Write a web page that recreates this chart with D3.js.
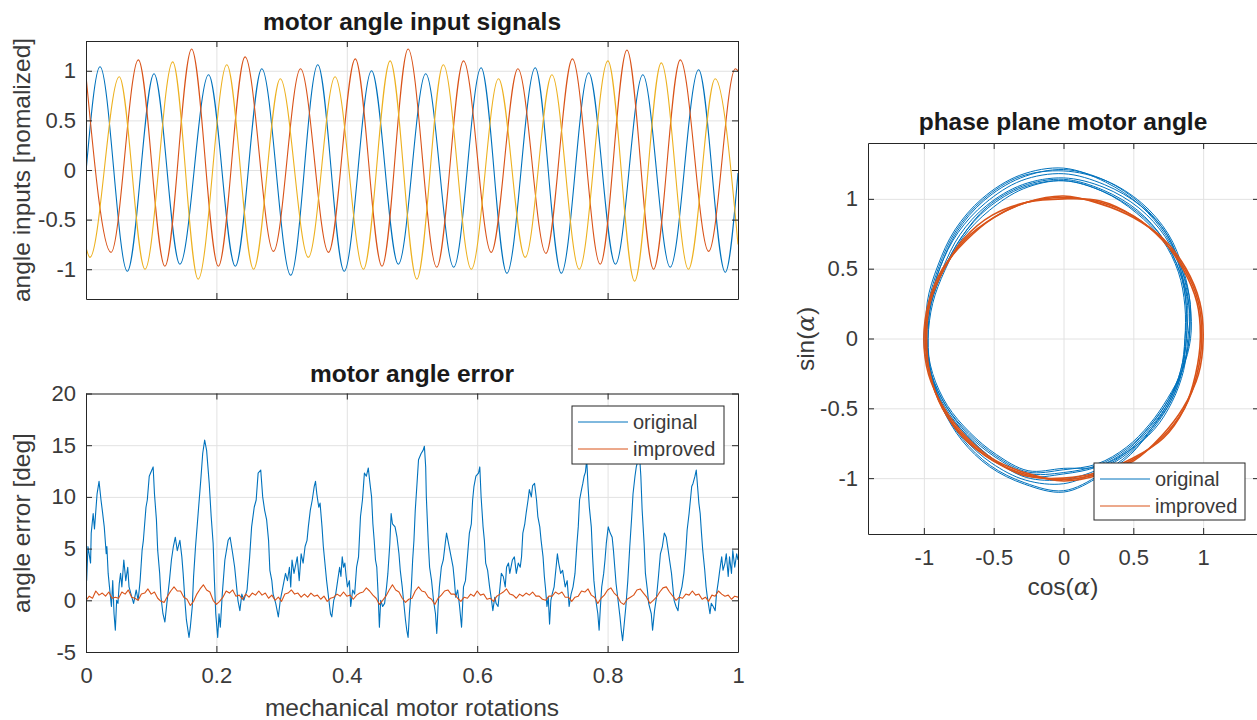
<!DOCTYPE html>
<html>
<head>
<meta charset="utf-8">
<script src="https://cdn.jsdelivr.net/npm/d3@7"></script>
<style>
  body { margin: 0; background: #fff; }
  text { font-family: "Liberation Sans", Arial, Helvetica, sans-serif; }
</style>
</head>
<body>
<svg id="fig" width="1257" height="720"></svg>
<script>
// ---- data ----
// motor angle input signals: extrema [rotation, value]
const inBlue = [[0,-0.02],[0.0215,1.04],[0.0634,-1.02],[0.1043,0.97],[0.144,-0.95],[0.188,0.96],[0.229,-0.97],[0.2696,1.02],[0.314,-1.06],[0.3555,1.06],[0.396,-1.02],[0.438,1.0],[0.479,-0.95],[0.521,0.97],[0.564,-0.98],[0.606,1.03],[0.6455,-1.04],[0.689,1.03],[0.729,-1.04],[0.771,0.98],[0.812,-0.95],[0.854,0.96],[0.896,-0.98],[0.9396,1.01],[0.9805,-1.03],[1.0,-0.03]];
const inRed = [[0,0.95],[0.0384,-0.83],[0.0803,1.11],[0.121,-0.97],[0.162,1.22],[0.203,-0.97],[0.244,1.14],[0.2875,-0.82],[0.329,1.02],[0.372,-0.83],[0.413,1.12],[0.454,-0.97],[0.494,1.22],[0.538,-0.98],[0.579,1.10],[0.6215,-0.83],[0.6624,1.02],[0.7054,-0.84],[0.746,1.12],[0.7887,-0.95],[0.8297,1.21],[0.8705,-1.0],[0.9115,1.11],[0.955,-0.82],[0.996,1.02],[1.0,1.0]];
const inYellow = [[0,-0.78],[0.006,-0.88],[0.051,0.94],[0.0905,-1.0],[0.133,1.09],[0.172,-1.10],[0.216,1.06],[0.257,-1.0],[0.298,0.92],[0.341,-0.88],[0.382,0.94],[0.4256,-1.0],[0.4665,1.10],[0.5074,-1.10],[0.548,1.06],[0.591,-1.0],[0.6327,0.92],[0.6736,-0.88],[0.7146,0.96],[0.7565,-1.0],[0.8005,1.10],[0.8414,-1.12],[0.8823,1.08],[0.924,-1.0],[0.965,0.92],[1.0,-0.75]];

// motor angle error [deg], original
const errOrig = [[0.001,1.9],[0.003,5.2],[0.007,3.6],[0.008,6.5],[0.011,8.4],[0.013,6.9],[0.017,10.3],[0.020,11.5],[0.023,9.7],[0.025,8.7],[0.028,7.1],[0.031,4.5],[0.032,5.2],[0.034,2.6],[0.036,1.3],[0.039,-0.6],[0.041,1.9],[0.043,-1.3],[0.045,-2.9],[0.047,0],[0.049,-0.3],[0.051,1.6],[0.053,2.6],[0.055,1.3],[0.058,3.9],[0.061,1.9],[0.064,3.2],[0.066,1.3],[0.069,0.6],[0.073,-0.3],[0.077,1.0],[0.080,0],[0.083,1.9],[0.086,4.8],[0.088,5.8],[0.092,9.0],[0.094,9.7],[0.097,12.0],[0.101,12.6],[0.103,12.9],[0.105,10.3],[0.108,7.8],[0.110,4.8],[0.113,2.6],[0.115,0.3],[0.118,-1.3],[0.121,-2.1],[0.124,-0.3],[0.128,1.9],[0.131,3.9],[0.134,5.2],[0.137,6.1],[0.140,4.8],[0.144,5.8],[0.147,4.2],[0.149,2.6],[0.152,-0.3],[0.154,-1.9],[0.158,-3.6],[0.160,-2.6],[0.163,-0.6],[0.165,2.3],[0.168,5.2],[0.172,8.4],[0.176,11.6],[0.179,14.2],[0.182,15.5],[0.185,14.5],[0.187,12.9],[0.189,11.3],[0.192,8.1],[0.195,5.5],[0.197,1.9],[0.199,-1.3],[0.202,-3.6],[0.204,-1.3],[0.206,-2.6],[0.209,0.6],[0.213,3.9],[0.218,5.8],[0.221,6.1],[0.225,4.5],[0.228,3.2],[0.231,1.3],[0.233,0],[0.236,-1.0],[0.239,0.6],[0.242,0],[0.247,1.0],[0.251,4.2],[0.254,7.1],[0.258,9.0],[0.261,9.7],[0.264,12.3],[0.268,12.6],[0.271,10.0],[0.274,8.7],[0.277,7.8],[0.280,5.8],[0.282,2.9],[0.285,1.9],[0.287,0.6],[0.291,-0.3],[0.295,-1.6],[0.298,0],[0.302,1.3],[0.306,2.6],[0.309,1.9],[0.312,3.2],[0.314,1.3],[0.316,3.9],[0.319,2.6],[0.324,4.2],[0.327,1.9],[0.330,4.5],[0.333,3.6],
  [0.336,5.2],[0.339,5.8],[0.341,7.1],[0.344,8.7],[0.347,9.7],[0.350,11.0],[0.352,11.5],[0.354,10.3],[0.357,9.0],[0.359,9.4],[0.362,7.1],[0.364,5.2],[0.366,3.9],[0.369,1.9],[0.372,0.3],[0.375,-1.3],[0.377,-1.6],[0.380,0],[0.383,0.6],[0.386,1.9],[0.389,3.2],[0.391,2.3],[0.393,4.2],[0.395,3.2],[0.397,3.6],[0.399,2.3],[0.401,1.3],[0.404,1.9],[0.406,-0.6],[0.409,1.0],[0.412,0.6],[0.415,3.2],[0.418,4.2],[0.421,8.1],[0.424,9.7],[0.427,12.3],[0.430,12.0],[0.433,12.8],[0.435,11.6],[0.438,10.0],[0.440,7.4],[0.442,5.8],[0.444,3.9],[0.446,3.2],[0.448,0.6],[0.450,-2.6],[0.452,0],[0.455,-0.6],[0.458,-0.3],[0.461,1.3],[0.463,2.6],[0.466,5.5],[0.468,8.4],[0.470,7.4],[0.474,7.1],[0.477,6.1],[0.480,4.5],[0.482,2.9],[0.485,1.3],[0.487,0],[0.490,-1.9],[0.492,-2.9],[0.494,-3.6],[0.496,-1.3],[0.499,1.3],[0.501,3.9],[0.503,5.8],[0.505,8.7],[0.508,11.6],[0.510,13.6],[0.514,14.2],[0.517,14.5],[0.519,14.9],[0.521,12.9],[0.522,10.0],[0.525,5.5],[0.527,3.2],[0.530,1.9],[0.533,0],[0.536,-1.3],[0.538,-3.2],[0.540,-0.6],[0.542,1.3],[0.545,3.2],[0.548,3.9],[0.551,5.5],[0.553,6.5],[0.556,5.5],[0.560,4.2],[0.563,3.2],[0.565,1.9],[0.567,0.3],[0.570,1.0],[0.573,-0.6],[0.576,-2.6],[0.579,1.3],[0.582,1.9],[0.585,4.2],[0.588,6.5],[0.591,7.4],[0.593,9.7],[0.595,11.0],[0.598,12.0],[0.602,12.3],[0.604,12.9],[0.606,10.0],[0.609,7.1],[0.611,5.8],[0.613,3.6],[0.616,2.9],[0.619,1.3],[0.622,0],[0.624,-1.0],[0.627,0.3],[0.629,-0.3],[0.632,-0.6],[0.635,1.3],[0.637,2.6],[0.640,2.3],[0.643,1.3],[0.645,3.2],[0.648,3.6],[0.650,2.6],[0.654,3.9],[0.657,4.2],[0.660,2.6],[0.663,3.6],[0.666,3.2],
  [0.668,4.2],[0.670,6.5],[0.673,7.4],[0.675,8.4],[0.678,9.7],[0.680,10.7],[0.683,10.0],[0.685,11.1],[0.688,11.3],[0.691,9.7],[0.693,8.1],[0.696,7.1],[0.698,5.8],[0.701,4.2],[0.703,2.3],[0.705,1.0],[0.707,-0.6],[0.709,0.3],[0.711,-2.3],[0.713,0],[0.715,0.6],[0.718,1.3],[0.721,3.2],[0.723,4.5],[0.725,3.6],[0.728,2.6],[0.731,2.9],[0.735,1.3],[0.738,1.9],[0.741,-0.6],[0.744,0.6],[0.747,1.3],[0.750,2.6],[0.753,5.5],[0.755,7.1],[0.757,9.7],[0.760,10.7],[0.762,11.3],[0.764,12.0],[0.766,12.4],[0.768,13.6],[0.770,11.0],[0.772,9.0],[0.775,7.1],[0.777,4.2],[0.779,1.9],[0.782,0],[0.785,-1.3],[0.787,-2.9],[0.789,-0.6],[0.791,1.3],[0.794,2.6],[0.796,3.9],[0.798,5.5],[0.801,7.1],[0.804,6.5],[0.807,6.1],[0.809,4.8],[0.811,3.2],[0.813,1.6],[0.816,0],[0.819,-1.6],[0.821,-2.9],[0.823,-3.9],[0.825,-2.6],[0.828,-0.6],[0.831,1.9],[0.834,5.2],[0.837,8.1],[0.839,10.3],[0.842,12.0],[0.844,12.9],[0.846,13.4],[0.849,14.0],[0.851,12.0],[0.853,8.7],[0.856,5.5],[0.858,2.6],[0.861,1.0],[0.863,-0.3],[0.867,-1.3],[0.869,-2.9],[0.872,-1.0],[0.875,0.3],[0.878,2.3],[0.881,4.5],[0.884,5.2],[0.887,6.5],[0.890,6.1],[0.893,4.8],[0.895,3.9],[0.898,2.6],[0.900,1.3],[0.902,0],[0.905,-0.6],[0.908,-1.0],[0.910,0.3],[0.914,1.3],[0.917,2.6],[0.920,4.8],[0.922,6.8],[0.925,8.4],[0.927,9.7],[0.929,11.0],[0.931,11.3],[0.934,12.0],[0.936,12.6],[0.938,11.0],[0.940,9.4],[0.942,8.4],[0.944,6.5],[0.946,4.8],[0.949,2.9],[0.951,1.3],[0.953,0.3],[0.957,-1.3],[0.959,-0.3],[0.962,-0.6],[0.965,-1.0],[0.967,0.6],[0.970,1.9],[0.972,2.9],[0.975,4.2],[0.977,2.9],[0.980,3.6],[0.982,4.5],[0.985,2.3],[0.987,4.2],[0.990,2.6],[0.992,4.8],[0.995,3.2],[0.998,4.5],[1.0,3.9]];

// motor angle error [deg], improved (small jittery ripple)
const errImproved = [[0.000,0.0],[0.005,0.4],[0.010,0.2],[0.015,0.9],[0.020,0.5],[0.025,0.7],[0.030,0.4],[0.035,0.8],[0.040,0.2],[0.045,0.3],[0.050,0.2],[0.055,0.8],[0.060,0.6],[0.065,1.0],[0.070,0.3],[0.075,0.2],[0.080,0.0],[0.085,0.6],[0.090,0.7],[0.095,1.1],[0.100,0.6],[0.105,0.8],[0.110,0.2],[0.115,-0.1],[0.120,-0.2],[0.125,0.4],[0.130,0.9],[0.135,1.3],[0.140,0.9],[0.145,0.9],[0.150,0.3],[0.155,0.1],[0.160,-0.5],[0.165,-0.1],[0.170,0.6],[0.175,1.1],[0.180,1.5],[0.185,1.0],[0.190,0.8],[0.195,0.0],[0.200,-0.4],[0.205,-0.1],[0.210,0.3],[0.215,0.9],[0.220,0.7],[0.225,1.0],[0.230,0.4],[0.235,0.5],[0.240,0.1],[0.245,0.6],[0.250,0.3],[0.255,0.7],[0.260,0.5],[0.265,0.9],[0.270,0.5],[0.275,0.7],[0.280,0.2],[0.285,0.5],[0.290,0.0],[0.295,0.3],[0.300,-0.1],[0.305,0.6],[0.310,0.7],[0.315,1.0],[0.320,0.6],[0.325,0.7],[0.330,0.3],[0.335,0.6],[0.340,0.3],[0.345,0.7],[0.350,0.4],[0.355,0.5],[0.360,0.1],[0.365,0.4],[0.370,-0.1],[0.375,0.2],[0.380,0.3],[0.385,0.6],[0.390,0.4],[0.395,0.8],[0.400,0.4],[0.405,0.5],[0.410,0.1],[0.415,0.5],[0.420,0.7],[0.425,0.8],[0.430,1.2],[0.435,0.9],[0.440,0.5],[0.445,0.2],[0.450,-0.4],[0.455,0.0],[0.460,0.4],[0.465,1.0],[0.470,1.5],[0.475,1.0],[0.480,0.8],[0.485,0.2],[0.490,-0.2],[0.495,0.1],[0.500,0.2],[0.505,0.9],[0.510,1.3],[0.515,0.9],[0.520,0.8],[0.525,0.3],[0.530,0.1],[0.535,-0.4],[0.540,0.2],[0.545,0.5],[0.550,0.9],[0.555,1.0],[0.560,0.6],[0.565,0.6],[0.570,0.2],[0.575,-0.1],[0.580,0.3],[0.585,0.2],[0.590,0.6],[0.595,0.4],[0.600,0.9],[0.605,0.5],[0.610,0.6],[0.615,0.1],[0.620,0.2],[0.625,-0.1],[0.630,0.4],[0.635,0.6],[0.640,0.8],[0.645,1.1],[0.650,0.6],[0.655,0.5],[0.660,0.2],[0.665,0.6],[0.670,0.4],[0.675,0.7],[0.680,0.5],[0.685,0.8],[0.690,0.4],[0.695,0.4],[0.700,0.1],[0.705,0.0],[0.710,0.4],[0.715,0.4],[0.720,0.8],[0.725,0.6],[0.730,0.8],[0.735,0.3],[0.740,0.3],[0.745,-0.1],[0.750,0.3],[0.755,0.4],[0.760,0.9],[0.765,0.8],[0.770,1.1],[0.775,0.5],[0.780,0.3],[0.785,-0.3],[0.790,0.2],[0.795,0.5],[0.800,1.0],[0.805,1.2],[0.810,0.7],[0.815,0.4],[0.820,-0.2],[0.825,-0.4],[0.830,0.1],[0.835,0.3],[0.840,0.5],[0.845,1.0],[0.850,1.1],[0.855,0.7],[0.860,0.3],[0.865,-0.3],[0.870,0.0],[0.875,0.3],[0.880,0.8],[0.885,1.2],[0.890,1.3],[0.895,0.8],[0.900,0.4],[0.905,0.0],[0.910,0.3],[0.915,0.2],[0.920,0.6],[0.925,0.5],[0.930,0.9],[0.935,0.5],[0.940,0.6],[0.945,0.1],[0.950,0.3],[0.955,-0.1],[0.960,0.5],[0.965,0.4],[0.970,0.9],[0.975,0.6],[0.980,0.4],[0.985,0.5],[0.990,0.1],[0.995,0.4],[1.000,0.3]];

// phase plane: radius of each loop at these angles (deg, counter-clockwise from cos axis)
const phaseAngles = [0,15,30,45,60,75,90,105,120,135,150,165,180,195,210,225,240,255,270,285,300,315,330,345];
const phaseOrig = [
  [0.88,0.91,0.96,1.01,1.06,1.10,1.14,1.13,1.09,1.03,0.99,0.98,0.98,0.99,0.99,0.98,1.00,1.03,1.01,0.97,0.93,0.89,0.88,0.87],
  [0.90,0.93,0.98,1.05,1.11,1.17,1.21,1.19,1.14,1.08,1.02,0.99,0.99,0.98,0.97,0.97,0.98,1.00,0.96,0.94,0.91,0.88,0.87,0.88],
  [0.87,0.90,0.95,1.00,1.04,1.09,1.13,1.11,1.06,1.02,0.98,0.97,0.97,0.99,1.00,1.02,1.05,1.07,1.09,1.01,0.95,0.91,0.89,0.88],
  [0.91,0.94,0.99,1.06,1.12,1.17,1.20,1.20,1.15,1.09,1.03,1.00,0.98,0.98,0.97,0.96,0.97,0.99,0.94,0.93,0.90,0.87,0.86,0.88],
  [0.88,0.92,0.97,1.03,1.08,1.12,1.15,1.14,1.10,1.05,1.00,0.99,0.99,0.98,0.99,1.01,1.03,1.05,1.04,0.98,0.94,0.90,0.89,0.88],
  [0.89,0.94,0.98,1.04,1.10,1.16,1.22,1.21,1.16,1.10,1.04,1.01,0.98,0.97,0.96,0.95,0.96,0.98,0.93,0.95,0.93,0.92,0.90,0.89],
  [0.90,0.93,0.96,1.01,1.05,1.09,1.13,1.12,1.08,1.03,0.99,0.98,0.97,0.98,1.00,1.03,1.06,1.08,1.10,1.02,0.96,0.90,0.88,0.88],
  [0.87,0.91,0.97,1.05,1.10,1.14,1.18,1.17,1.12,1.07,1.02,0.99,1.00,0.99,0.98,0.98,1.00,1.02,0.97,0.95,0.92,0.88,0.87,0.87]
];
const phaseImproved = [
  [0.99,1.00,1.00,1.00,1.01,1.01,1.01,1.01,1.00,1.00,0.99,0.99,0.99,0.99,1.00,1.00,1.01,1.01,1.01,1.00,1.00,1.00,1.00,0.99],
  [1.00,1.01,1.01,1.01,1.00,1.00,1.02,1.01,1.00,0.99,1.00,1.00,1.00,1.00,0.99,0.99,1.00,1.00,1.02,1.01,1.01,0.99,0.99,1.00],
  [0.98,0.99,0.99,1.00,1.01,1.02,1.00,1.01,1.02,1.01,0.99,0.99,0.98,0.99,1.00,1.01,1.01,1.02,1.00,0.99,0.99,1.01,1.00,0.98]
];

const xTicksRot = [0, 0.2, 0.4, 0.6, 0.8, 1];
const yTicksIn = [-1, -0.5, 0, 0.5, 1];
const yTicksErr = [-5, 0, 5, 10, 15, 20];
const ticksPhase = [-1, -0.5, 0, 0.5, 1];
const legendNames = ["original", "improved"];

// ---- styling ----
const BLUE = "#0072BD", RED = "#D95319", YELLOW = "#EDB120";
const AX = "#262626", GRID = "#e2e2e2", TXT = "#3a3a3a";
const TICK_FS = 22, LABEL_FS = 24.5;
const fmt = d => String(d);

const svg = d3.select("#fig");
let clipN = 0;

function makeAxes(o) {
  const x = d3.scaleLinear().domain(o.xDom).range([o.l, o.r]);
  const y = d3.scaleLinear().domain(o.yDom).range([o.b, o.t]);
  const g = svg.append("g");

  g.append("g")
    .attr("transform", `translate(0,${o.b})`)
    .call(d3.axisBottom(x).tickValues(o.xTicks).tickSize(-(o.b - o.t)).tickFormat(""))
    .call(s => s.select(".domain").remove())
    .call(s => s.selectAll("line").attr("stroke", GRID));
  g.append("g")
    .attr("transform", `translate(${o.l},0)`)
    .call(d3.axisLeft(y).tickValues(o.yTicks).tickSize(-(o.r - o.l)).tickFormat(""))
    .call(s => s.select(".domain").remove())
    .call(s => s.selectAll("line").attr("stroke", GRID));

  const id = "clip" + (clipN++);
  g.append("clipPath").attr("id", id).append("rect")
    .attr("x", o.l).attr("y", o.t).attr("width", o.r - o.l).attr("height", o.b - o.t);
  const plot = g.append("g").attr("clip-path", `url(#${id})`);
  return { x, y, g, plot, o };
}

function styleAxis(s) {
  s.attr("font-family", null).attr("font-size", null);
  s.select(".domain").attr("stroke", AX).attr("stroke-width", 1);
  s.selectAll(".tick line").attr("stroke", AX).attr("stroke-width", 1);
  s.selectAll("text").attr("fill", TXT).style("font-size", TICK_FS + "px");
}

function finishAxes(a, showX) {
  const { x, y, g, o } = a;
  g.append("g").attr("transform", `translate(${o.l},0)`)
    .call(d3.axisLeft(y).tickValues(o.yTicks).tickSizeInner(-6).tickSizeOuter(0).tickPadding(10).tickFormat(fmt))
    .call(styleAxis);
  g.append("g").attr("transform", `translate(${o.r},0)`)
    .call(d3.axisRight(y).tickValues(o.yTicks).tickSizeInner(-6).tickSizeOuter(0).tickFormat(""))
    .call(styleAxis);
  g.append("g").attr("transform", `translate(0,${o.b})`)
    .call(d3.axisBottom(x).tickValues(o.xTicks).tickSizeInner(-6).tickSizeOuter(0).tickPadding(15).tickFormat(showX ? fmt : ""))
    .call(styleAxis);
  g.append("g").attr("transform", `translate(0,${o.t})`)
    .call(d3.axisTop(x).tickValues(o.xTicks).tickSizeInner(-6).tickSizeOuter(0).tickFormat(""))
    .call(styleAxis);
}

function title(txt, cx, by) {
  svg.append("text").attr("x", cx).attr("y", by).attr("text-anchor", "middle")
    .attr("font-weight", "bold").attr("fill", "#1a1a1a").style("font-size", LABEL_FS + "px").text(txt);
}

function ylabel(txt, bx, cy) {
  return svg.append("text").attr("transform", `translate(${bx},${cy}) rotate(-90)`)
    .attr("text-anchor", "middle").attr("fill", TXT).style("font-size", LABEL_FS + "px").text(txt);
}

function legend(lx, ly, w, h, colors) {
  const lg = svg.append("g").attr("transform", `translate(${lx},${ly})`);
  lg.append("rect").attr("width", w).attr("height", h).attr("fill", "#fff").attr("stroke", AX).attr("stroke-width", 1);
  legendNames.forEach((name, i) => {
    const cy = 16 + i * 27;
    lg.append("line").attr("x1", 6).attr("x2", 56).attr("y1", cy).attr("y2", cy)
      .attr("stroke", colors[i]).attr("stroke-width", 1);
    lg.append("text").attr("x", 61).attr("y", cy).attr("dy", "0.35em").attr("fill", TXT)
      .style("font-size", "20px").text(name);
  });
}

// ---- top: motor angle input signals ----
const inAx = makeAxes({ l: 86, r: 738, t: 41, b: 299, xDom: [0, 1], yDom: [-1.3, 1.3], xTicks: xTicksRot, yTicks: yTicksIn });
const waveLine = d3.line().x(d => inAx.x(d[0])).y(d => inAx.y(d[1])).curve(d3.curveMonotoneX);
[[inBlue, BLUE], [inRed, RED], [inYellow, YELLOW]].forEach(([data, c]) => {
  inAx.plot.append("path").datum(data).attr("d", waveLine)
    .attr("fill", "none").attr("stroke", c).attr("stroke-width", 1.1);
});
finishAxes(inAx, false);
title("motor angle input signals", 412, 30);
ylabel("angle inputs [nomalized]", 30, 170);

// ---- bottom: motor angle error ----
const errAx = makeAxes({ l: 86, r: 738, t: 393.5, b: 652, xDom: [0, 1], yDom: [-5, 20], xTicks: xTicksRot, yTicks: yTicksErr });
const errLine = d3.line().x(d => errAx.x(d[0])).y(d => errAx.y(d[1]));
errAx.plot.append("path").datum(errOrig).attr("d", errLine)
  .attr("fill", "none").attr("stroke", BLUE).attr("stroke-width", 1.1).attr("stroke-linejoin", "round");
errAx.plot.append("path").datum(errImproved).attr("d", errLine)
  .attr("fill", "none").attr("stroke", RED).attr("stroke-width", 1.1).attr("stroke-linejoin", "round");
finishAxes(errAx, true);
title("motor angle error", 412, 382);
ylabel("angle error [deg]", 30, 523);
svg.append("text").attr("x", 412).attr("y", 716).attr("text-anchor", "middle")
  .attr("fill", TXT).style("font-size", LABEL_FS + "px").text("mechanical motor rotations");
legend(572, 406, 152, 58, [BLUE, RED]);

// ---- right: phase plane ----
const ph = makeAxes({ l: 868, r: 1259, t: 143, b: 534, xDom: [-1.4, 1.4], yDom: [-1.4, 1.4], xTicks: ticksPhase, yTicks: ticksPhase });
const rScale = d3.scaleLinear().domain([0, 1]).range([0, ph.x(1) - ph.x(0)]);
const radial = d3.lineRadial()
  .angle((d, i) => (90 - phaseAngles[i]) * Math.PI / 180)
  .radius(d => rScale(d))
  .curve(d3.curveCatmullRomClosed);
const origin = ph.plot.append("g").attr("transform", `translate(${ph.x(0)},${ph.y(0)})`);
phaseOrig.forEach(loop => {
  origin.append("path").datum(loop).attr("d", radial)
    .attr("fill", "none").attr("stroke", BLUE).attr("stroke-width", 1);
});
phaseImproved.forEach(loop => {
  origin.append("path").datum(loop).attr("d", radial)
    .attr("fill", "none").attr("stroke", RED).attr("stroke-width", 1.6);
});
finishAxes(ph, true);
title("phase plane motor angle", 1063, 130);
const sinLab = ylabel("sin(", 814, 339);
sinLab.append("tspan").attr("font-family", "'DejaVu Serif', serif").attr("font-style", "italic").text("α");
sinLab.append("tspan").text(")");
const cosLab = svg.append("text").attr("x", 1063).attr("y", 595).attr("text-anchor", "middle")
  .attr("fill", TXT).style("font-size", LABEL_FS + "px").text("cos(");
cosLab.append("tspan").attr("font-family", "'DejaVu Serif', serif").attr("font-style", "italic").text("α");
cosLab.append("tspan").text(")");
legend(1094, 463, 151, 57, [BLUE, RED]);
</script>
</body>
</html>
